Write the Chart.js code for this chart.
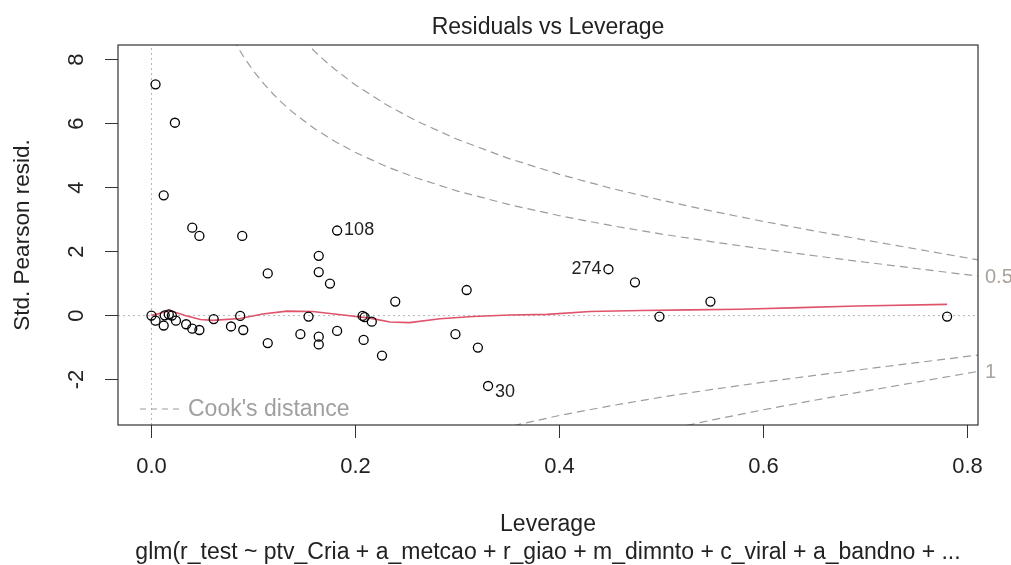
<!DOCTYPE html>
<html>
<head>
<meta charset="utf-8">
<script src="https://cdn.jsdelivr.net/npm/chart.js@4.4.1/dist/chart.umd.min.js"></script>
<style>
  html, body { margin: 0; padding: 0; background: #fff; }
  #plot { display: block; }
</style>
</head>
<body>
<canvas id="plot" width="1011" height="565"></canvas>
<script>
// observations: leverage and std. Pearson residual
const leverage = [0.004, 0.023, 0.012, 0.040, 0.047, 0.089, 0.182, 0.164, 0.164, 0.114,
  0.175, 0.239, 0.000, 0.004, 0.012, 0.013, 0.017, 0.020, 0.024, 0.034,
  0.040, 0.047, 0.061, 0.078, 0.087, 0.090, 0.114, 0.146, 0.154, 0.164,
  0.164, 0.182, 0.207, 0.209, 0.216, 0.208, 0.226, 0.309, 0.298, 0.320,
  0.330, 0.448, 0.474, 0.498, 0.548, 0.780];
const stdResid = [7.23, 6.03, 3.76, 2.75, 2.49, 2.49, 2.66, 1.87, 1.36, 1.32,
  1.00, 0.44, 0.00, -0.16, -0.31, 0.01, 0.04, 0.00, -0.16, -0.27,
  -0.41, -0.45, -0.11, -0.34, -0.01, -0.45, -0.86, -0.58, -0.03, -0.66,
  -0.90, -0.48, -0.01, -0.05, -0.19, -0.76, -1.25, 0.80, -0.58, -1.00,
  -2.20, 1.45, 1.04, -0.03, 0.44, -0.03];

// labelled observations (index into the arrays above)
const idIndex = [6, 41, 40];
const idText = ['108', '274', '30'];

// red smoother
const smoothLev = [0.000, 0.018, 0.033, 0.048, 0.060, 0.087, 0.109, 0.133, 0.158, 0.188,
  0.214, 0.234, 0.253, 0.283, 0.315, 0.351, 0.388, 0.430, 0.480, 0.528,
  0.577, 0.636, 0.692, 0.780];
const smoothResid = [0.00, 0.16, 0.00, -0.12, -0.15, -0.09, 0.05, 0.14, 0.13, 0.02,
  -0.08, -0.20, -0.22, -0.10, -0.03, 0.02, 0.04, 0.13, 0.16, 0.18,
  0.20, 0.25, 0.30, 0.35];

// Cook's distance contours (0.5 and 1)
const cookHalfLev = [0.08, 0.09, 0.10, 0.11, 0.12, 0.13, 0.14, 0.16, 0.18, 0.20, 0.23, 0.26,
  0.30, 0.35, 0.40, 0.45, 0.50, 0.55, 0.60, 0.65, 0.70, 0.75, 0.811];
const cookHalfUp = [8.646, 8.107, 7.649, 7.252, 6.904, 6.595, 6.319, 5.842, 5.442, 5.099, 4.665, 4.301,
  3.894, 3.475, 3.122, 2.819, 2.550, 2.306, 2.082, 1.871, 1.669, 1.472, 1.231];
const cookHalfLowLev = [0.33, 0.35, 0.40, 0.45, 0.50, 0.55, 0.60, 0.65, 0.70, 0.75, 0.811];
const cookHalfLow = [-3.633, -3.475, -3.122, -2.819, -2.550, -2.306, -2.082, -1.871, -1.669, -1.472, -1.231];
const cookOneLev = [0.14, 0.15, 0.16, 0.17, 0.18, 0.20, 0.23, 0.26, 0.30, 0.35, 0.40, 0.45,
  0.50, 0.55, 0.60, 0.65, 0.70, 0.75, 0.811];
const cookOneUp = [8.936, 8.583, 8.261, 7.967, 7.696, 7.211, 6.597, 6.083, 5.508, 4.914, 4.416, 3.986,
  3.606, 3.261, 2.944, 2.646, 2.360, 2.082, 1.740];
const cookOneLowLev = [0.50, 0.55, 0.60, 0.65, 0.70, 0.75, 0.811];
const cookOneLow = [-3.606, -3.261, -2.944, -2.646, -2.360, -2.082, -1.740];

const cookLevels = ['0.5', '1'];
const cookLabelAt = [1.2, -1.78];

const xTicks = [0, 0.2, 0.4, 0.6, 0.8];
const yTicks = [-2, 0, 2, 4, 6, 8];
const xRange = [-0.0328, 0.8103];
const yRange = [-3.42, 8.46];

const mainTitle = 'Residuals vs Leverage';
const xTitle = 'Leverage';
const yTitle = 'Std. Pearson resid.';
const caption = 'glm(r_test ~ ptv_Cria + a_metcao + r_giao + m_dimnto + c_viral + a_bandno + ...';

const FONT = '"Liberation Sans", Arial, sans-serif';
const DARK = '#222';
const COOK = '#9c9c9c';
const pts = (xs, ys) => xs.map((v, i) => ({x: v, y: ys[i]}));

const decorations = {
  id: 'decorations',
  afterDatasetsDraw(chart) {
    const {ctx, chartArea: a} = chart;
    ctx.save();
    ctx.strokeStyle = '#333';
    ctx.lineWidth = 1.2;
    ctx.strokeRect(a.left, a.top, a.right - a.left, a.bottom - a.top);

    ctx.fillStyle = DARK;
    ctx.textBaseline = 'middle';
    ctx.textAlign = 'center';
    ctx.font = '23px ' + FONT;
    ctx.fillText(mainTitle, (a.left + a.right) / 2, 28);

    // ids of the extreme points
    const meta = chart.getDatasetMeta(0);
    ctx.font = '18px ' + FONT;
    idIndex.forEach((idx, k) => {
      const p = meta.data[idx];
      const right = p.x < (a.left + a.right) / 2 || k === 2;
      ctx.textAlign = right ? 'left' : 'right';
      const dy = k === 2 ? 6 : 0;
      ctx.fillText(idText[k], p.x + (right ? 7 : -7), p.y + dy);
    });

    // Cook's distance legend
    ctx.strokeStyle = COOK;
    ctx.lineWidth = 1.2;
    ctx.setLineDash([6, 5]);
    ctx.beginPath();
    ctx.moveTo(a.left + 22, a.bottom - 16);
    ctx.lineTo(a.left + 66, a.bottom - 16);
    ctx.stroke();
    ctx.setLineDash([]);
    ctx.fillStyle = '#a0a0a0';
    ctx.textAlign = 'left';
    ctx.font = '23px ' + FONT;
    ctx.fillText("Cook's distance", a.left + 70, a.bottom - 15);
    ctx.restore();
  }
};

const lineSet = (data, color, width, dash) => ({
  data, showLine: true, pointRadius: 0, pointHoverRadius: 0,
  borderColor: color, borderWidth: width, borderDash: dash, fill: false, tension: 0
});

new Chart(document.getElementById('plot'), {
  type: 'scatter',
  data: {
    datasets: [
      {
        data: pts(leverage, stdResid),
        pointRadius: 4.5, pointHoverRadius: 4.5,
        pointBorderWidth: 1.3, pointBorderColor: '#000',
        pointBackgroundColor: 'rgba(0,0,0,0)'
      },
      lineSet(pts(smoothLev, smoothResid), '#DF536B', 1.6, []),
      lineSet(pts(cookHalfLev, cookHalfUp), COOK, 1.2, [8, 5]),
      lineSet(pts(cookHalfLowLev, cookHalfLow), COOK, 1.2, [8, 5]),
      lineSet(pts(cookOneLev, cookOneUp), COOK, 1.2, [8, 5]),
      lineSet(pts(cookOneLowLev, cookOneLow), COOK, 1.2, [8, 5]),
      lineSet(pts(xRange, [0, 0]), '#b4b4b4', 1, [2, 3]),
      lineSet(pts([0, 0], yRange), '#b4b4b4', 1, [2, 3])
    ]
  },
  options: {
    responsive: false,
    animation: false,
    events: [],
    layout: { padding: { top: 45, left: 0, right: 0, bottom: 0 } },
    font: { family: FONT },
    plugins: { legend: { display: false }, tooltip: { enabled: false } },
    scales: {
      x: {
        type: 'linear', position: 'bottom',
        min: xRange[0], max: xRange[1],
        afterBuildTicks: s => { s.ticks = xTicks.map(v => ({value: v})); },
        afterFit: s => { s.height = 140; },
        grid: { drawOnChartArea: false, drawTicks: true, tickLength: 13, tickColor: '#333', tickWidth: 1 },
        border: { display: false },
        ticks: { autoSkip: false, maxRotation: 0, padding: 16, color: DARK,
          font: { family: FONT, size: 22 }, callback: v => v.toFixed(1) },
        title: { display: true, text: [xTitle, caption], color: DARK,
          font: { family: FONT, size: 23, lineHeight: 28 / 23 }, padding: { top: 0, bottom: -2 } }
      },
      y: {
        type: 'linear', position: 'left',
        min: yRange[0], max: yRange[1],
        afterBuildTicks: s => { s.ticks = yTicks.map(v => ({value: v})); },
        afterFit: s => { s.width = 118; },
        grid: { drawOnChartArea: false, drawTicks: true, tickLength: 13, tickColor: '#333', tickWidth: 1 },
        border: { display: false },
        ticks: { autoSkip: false, minRotation: 90, maxRotation: 90, crossAlign: 'center', padding: 18,
          color: DARK, font: { family: FONT, size: 22 }, callback: v => String(v) },
        title: { display: true, text: yTitle, color: DARK,
          font: { family: FONT, size: 22.5 }, padding: { top: 9, bottom: 0 } }
      },
      cook: {
        type: 'linear', position: 'right',
        min: yRange[0], max: yRange[1],
        afterBuildTicks: s => { s.ticks = cookLabelAt.map(v => ({value: v})); },
        afterFit: s => { s.width = 33; },
        grid: { display: false, drawTicks: false },
        border: { display: false },
        ticks: { autoSkip: false, padding: 7, color: '#aaa39c',
          font: { family: FONT, size: 20 }, callback: (v, i) => cookLevels[i] }
      }
    }
  },
  plugins: [decorations]
});
</script>
</body>
</html>
